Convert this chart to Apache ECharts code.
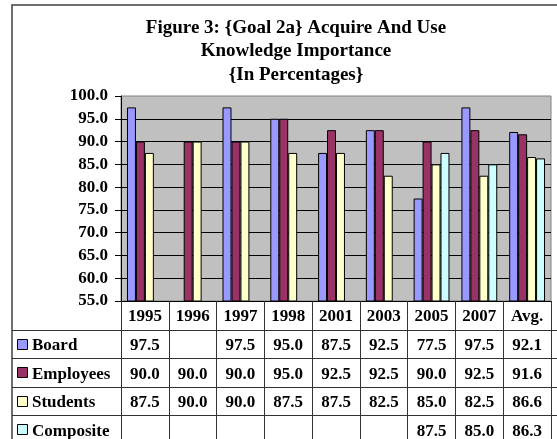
<!DOCTYPE html>
<html>
<head>
<meta charset="utf-8">
<script src="https://cdn.jsdelivr.net/npm/echarts@6/dist/echarts.min.js"></script>
<style>
  html, body { margin: 0; padding: 0; background: #ffffff; }
  #chart { width: 557px; height: 439px; }
</style>
</head>
<body>
<div id="chart"></div>
<script>
// Survey periods shown along the bottom and in the data table
const categories = ['1995', '1996', '1997', '1998', '2001', '2003', '2005', '2007', 'Avg.'];

// Importance ratings (percent) per respondent group; null = not surveyed
const board      = [97.5, null, 97.5, 95.0, 87.5, 92.5, 77.5, 97.5, 92.1];
const employees  = [90.0, 90.0, 90.0, 95.0, 92.5, 92.5, 90.0, 92.5, 91.6];
const students   = [87.5, 90.0, 90.0, 87.5, 87.5, 82.5, 85.0, 82.5, 86.6];
const composite  = [null, null, null, null, null, null, 87.5, 85.0, 86.3];

const seriesNames  = ['Board', 'Employees', 'Students', 'Composite'];
const seriesValues = [board, employees, students, composite];
const seriesColors = ['#9999FF', '#993366', '#FFFFCC', '#CCFFFF'];

// Value axis range
const yMin = 55, yMax = 100, yStep = 5;

const SERIF = '"Liberation Serif", "Times New Roman", serif';
const FONT = 'bold 17px ' + SERIF;

const chart = echarts.init(document.getElementById('chart'), null, { renderer: 'canvas' });

const option = {
  animation: false,
  backgroundColor: '#ffffff',
  title: {
    text: 'Figure 3: {Goal 2a} Acquire And Use\nKnowledge Importance\n{In Percentages}',
    left: 291,
    top: 11,
    textAlign: 'center',
    textStyle: {
      fontFamily: SERIF,
      fontWeight: 'bold',
      fontSize: 19,
      lineHeight: 23.5,
      color: '#000'
    }
  },
  grid: {
    left: 121,
    top: 96,
    right: 6,
    bottom: 138,
    show: true,
    backgroundColor: '#C0C0C0',
    borderColor: '#808080',
    borderWidth: 1
  },
  xAxis: {
    type: 'category',
    data: categories,
    boundaryGap: true,
    axisLine: { show: true, lineStyle: { color: '#000', width: 1 } },
    axisTick: {
      show: true,
      interval: 0,
      length: 142,
      lineStyle: { color: '#333', width: 1 }
    },
    axisLabel: {
      interval: 0,
      margin: 7,
      color: '#000',
      fontFamily: SERIF,
      fontWeight: 'bold',
      fontSize: 17
    },
    splitLine: { show: false }
  },
  yAxis: {
    type: 'value',
    min: yMin,
    max: yMax,
    interval: yStep,
    axisLine: { show: true, lineStyle: { color: '#000', width: 1 } },
    axisTick: { show: true, length: 6, lineStyle: { color: '#000' } },
    axisLabel: {
      margin: 13,
      color: '#000',
      fontFamily: SERIF,
      fontWeight: 'bold',
      fontSize: 17,
      formatter: v => v.toFixed(1)
    },
    splitLine: {
      show: true,
      showMinLine: false,
      showMaxLine: false,
      lineStyle: { color: '#000', width: 1 }
    }
  },
  series: seriesNames.map((name, k) => ({
    name: name,
    type: 'bar',
    data: seriesValues[k],
    barGap: '0%',
    barCategoryGap: '25%',
    itemStyle: { color: seriesColors[k], borderColor: '#000', borderWidth: 1 }
  }))
};

chart.setOption(option);

// Data table under the plot, aligned to the category axis
const colX = categories.map((c, i) => chart.convertToPixel({ xAxisIndex: 0 }, i));
const tableTop = chart.convertToPixel({ yAxisIndex: 0 }, yMin);
const rowH = 28.5;
const tableLeft = 12;
const tableRight = chart.convertToPixel({ xAxisIndex: 0 }, categories.length - 0.5);

const elements = [];

// Outer chart frame (runs past the right and bottom page edges)
elements.push({
  type: 'rect',
  silent: true,
  shape: { x: 12, y: 5, width: 700, height: 600 },
  style: { fill: null, stroke: '#404040', lineWidth: 1.5 },
  z: 10
});

// Horizontal row rules
for (let r = 1; r <= seriesNames.length; r++) {
  const y = Math.round(tableTop + r * rowH) + 0.5;
  elements.push({
    type: 'line',
    silent: true,
    shape: { x1: tableLeft, y1: y, x2: tableRight, y2: y },
    style: { stroke: '#333', lineWidth: 1 },
    z: 10
  });
}

seriesNames.forEach((name, k) => {
  const cy = tableTop + (k + 1.5) * rowH + 2;
  // legend key
  elements.push({
    type: 'rect',
    silent: true,
    shape: { x: 17.5, y: Math.round(cy - 7) + 0.5, width: 10, height: 10 },
    style: { fill: seriesColors[k], stroke: '#000', lineWidth: 1 },
    z: 10
  });
  // row label
  elements.push({
    type: 'text',
    silent: true,
    style: {
      text: name, x: 32, y: cy, font: FONT, fill: '#000',
      align: 'left', verticalAlign: 'middle'
    },
    z: 10
  });
  // values
  seriesValues[k].forEach((v, i) => {
    if (v == null) return;
    elements.push({
      type: 'text',
      silent: true,
      style: {
        text: v.toFixed(1), x: colX[i], y: cy, font: FONT, fill: '#000',
        align: 'center', verticalAlign: 'middle'
      },
      z: 10
    });
  });
});

chart.setOption({ graphic: { elements: elements } });
</script>
</body>
</html>
